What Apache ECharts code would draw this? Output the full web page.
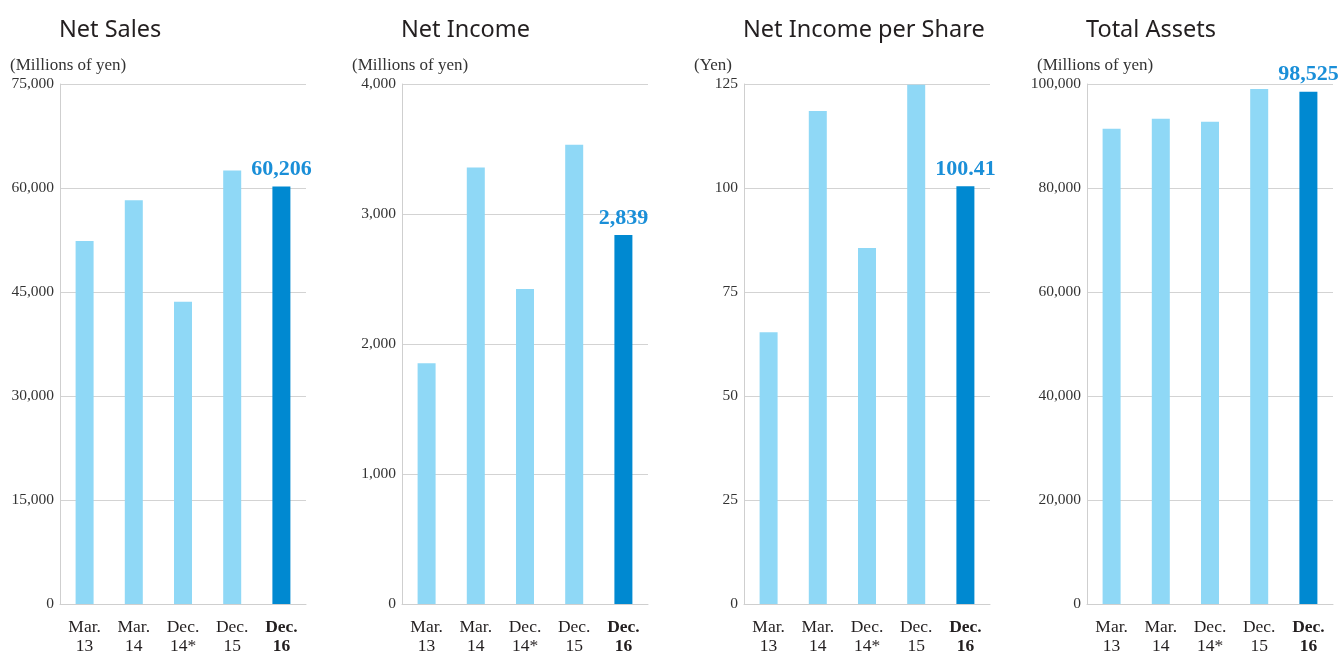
<!DOCTYPE html>
<html>
<head>
<meta charset="utf-8">
<script src="https://cdn.jsdelivr.net/npm/echarts@6/dist/echarts.min.js"></script>
<style>
  html, body { margin: 0; padding: 0; background: #fff; }
  #main { width: 1338px; height: 656px; }
</style>
</head>
<body>
<div id="main"></div>
<script>
  // categories (fiscal periods)
  const periods = ['Mar.\n13', 'Mar.\n14', 'Dec.\n14*', 'Dec.\n15', 'Dec.\n16']

  // values
  const netSales = [52340, 58220, 43600, 62520, 60206]
  const netIncome = [1851, 3357, 2424, 3533, 2839]
  const incomePerShare = [65.3, 118.5, 85.6, 124.8, 100.41]
  const totalAssets = [91400, 93300, 92730, 99040, 98525]

  const chartTitles = ['Net Sales', 'Net Income', 'Net Income per Share', 'Total Assets']
  const units = ['(Millions of yen)', '(Millions of yen)', '(Yen)', '(Millions of yen)']
  const yMax = [75000, 4000, 125, 100000]
  const yStep = [15000, 1000, 25, 20000]
  const highlightText = ['60,206', '2,839', '100.41', '98,525']

  const allData = [netSales, netIncome, incomePerShare, totalAssets]
  const lefts = [60, 402, 744, 1087]

  const serif = '"Liberation Serif", "DejaVu Serif", serif'
  const lightBlue = '#8fd8f6'
  const darkBlue = '#0089d1'

  let myChart = echarts.init(document.getElementById('main'))

  let titles = []
  let grids = []
  let xAxes = []
  let yAxes = []
  let series = []

  allData.forEach(function (vals, i) {
    titles.push({
      text: chartTitles[i],
      left: lefts[i] - 6,
      top: 13,
      textStyle: { fontFamily: '"Noto Sans", sans-serif', fontSize: 23.5, fontWeight: 'normal', color: '#231f20' }
    })
    titles.push({
      text: units[i],
      left: lefts[i] - 55,
      top: 52,
      textStyle: { fontFamily: serif, fontSize: 17, fontWeight: 'normal', color: '#333' }
    })
    grids.push({ left: lefts[i], top: 84, width: 246, height: 523 })
    xAxes.push({
      type: 'category',
      gridIndex: i,
      data: periods,
      axisTick: { show: false },
      axisLine: { lineStyle: { color: '#cfcfcf', width: 1 } },
      axisLabel: {
        margin: 14,
        fontFamily: serif,
        fontSize: 17.5,
        color: '#231f20',
        lineHeight: 19,
        interval: 0,
        formatter: function (v, idx) {
          if (idx === periods.length - 1) {
            return v.split('\n').map(function (s) { return '{b|' + s + '}' }).join('\n')
          }
          return v
        },
        rich: {
          b: { fontFamily: serif, fontSize: 17.5, fontWeight: 'bold', color: '#231f20', lineHeight: 19 }
        }
      }
    })
    yAxes.push({
      type: 'value',
      gridIndex: i,
      min: 0,
      max: yMax[i],
      interval: yStep[i],
      axisLine: { show: true, lineStyle: { color: '#cfcfcf', width: 1 } },
      axisTick: { show: false },
      splitLine: { lineStyle: { color: '#d3d3d3', width: 1 } },
      axisLabel: {
        margin: 6,
        fontFamily: serif,
        fontSize: 15.5,
        color: '#333',
        formatter: function (v) { return v.toLocaleString('en-US') }
      }
    })
    series.push({
      type: 'bar',
      xAxisIndex: i,
      yAxisIndex: i,
      barWidth: 18,
      animation: false,
      data: vals.map(function (v, idx) {
        let last = idx === vals.length - 1
        return {
          value: v,
          itemStyle: { color: last ? darkBlue : lightBlue },
          label: last ? {
            show: true,
            position: 'top',
            distance: 6,
            formatter: highlightText[i],
            fontFamily: serif,
            fontSize: 22,
            fontWeight: 'bold',
            color: '#1a8fd8'
          } : { show: false }
        }
      })
    })
  })

  myChart.setOption({
    backgroundColor: '#fff',
    title: titles,
    grid: grids,
    xAxis: xAxes,
    yAxis: yAxes,
    series: series
  })
</script>
</body>
</html>
